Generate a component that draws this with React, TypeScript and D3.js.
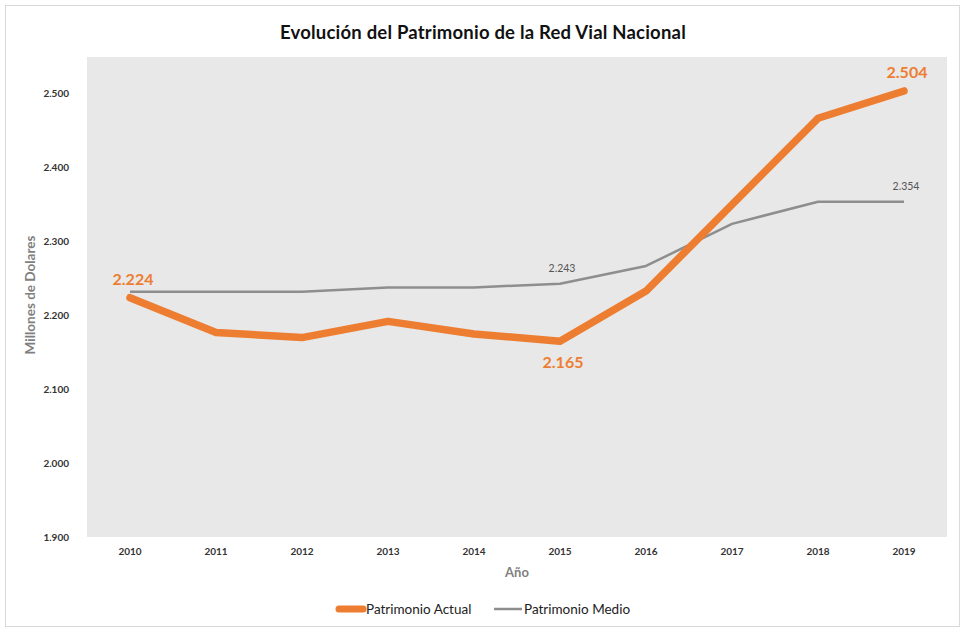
import React from "react";
import * as d3 from "d3";

const years = ["2010", "2011", "2012", "2013", "2014", "2015", "2016", "2017", "2018", "2019"];
const patrimonioActual = [2224, 2177, 2170, 2192, 2175, 2165, 2233, 2350, 2467, 2504];
const patrimonioMedio = [2232, 2232, 2232, 2238, 2238, 2243, 2267, 2324, 2354, 2354];
const yTicks = [1900, 2000, 2100, 2200, 2300, 2400, 2500];
const actualLabelIdx = [0, 5, 9];
const medioLabelIdx = [5, 9];

const W = 963;
const H = 631;
const plot = { left: 87, right: 947, top: 57, bottom: 537 };
const ORANGE = "#ed7d31";
const GRAY = "#8e8e8e";
const FONT = "Lato, 'Open Sans', sans-serif";

const fmt = (v: number) => (v / 1000).toFixed(3);

export default function App() {
  const x = d3.scaleBand<string>().domain(years).range([plot.left, plot.right]);
  const cx = (y: string) => (x(y) as number) + x.bandwidth() / 2;
  const y = d3.scaleLinear().domain([1900, 2550]).range([plot.bottom, plot.top]);
  const line = d3
    .line<number>()
    .x((_, i) => cx(years[i]))
    .y((d) => y(d));

  return (
    <div style={{ position: "absolute", left: 0, top: 0 }}>
      <svg width={W} height={H} style={{ display: "block", background: "#fff" }}>
        <rect x={5.5} y={5.5} width={W - 9} height={H - 10} fill="#fff" stroke="#d9d9d9" strokeWidth={1} />
        <text x={483} y={39} textAnchor="middle" fontFamily={FONT} fontWeight={700} fontSize={18.5} letterSpacing={0.2} fill="#111">
          Evolución del Patrimonio de la Red Vial Nacional
        </text>
        <rect x={plot.left} y={plot.top} width={plot.right - plot.left} height={plot.bottom - plot.top} fill="#e8e8e8" />
        {yTicks.map((t) => (
          <text key={t} x={69} y={y(t) + 3.5} textAnchor="end" fontFamily={FONT} fontWeight={700} fontSize={10} fill="#333">
            {fmt(t)}
          </text>
        ))}
        {years.map((yr) => (
          <text key={yr} x={cx(yr)} y={555} textAnchor="middle" fontFamily={FONT} fontWeight={700} fontSize={10} fill="#333">
            {yr}
          </text>
        ))}
        <text
          transform={`translate(35, ${(plot.top + plot.bottom) / 2 - 2}) rotate(-90)`}
          textAnchor="middle"
          fontFamily={FONT}
          fontWeight={700}
          fontSize={13.5}
          fill="#7f7f7f"
        >
          Millones de Dolares
        </text>
        <text x={(plot.left + plot.right) / 2} y={577} textAnchor="middle" fontFamily={FONT} fontWeight={700} fontSize={13} fill="#7f7f7f">
          Año
        </text>
        <path d={line(patrimonioMedio) || ""} fill="none" stroke={GRAY} strokeWidth={2.5} strokeLinejoin="round" />
        <path d={line(patrimonioActual) || ""} fill="none" stroke={ORANGE} strokeWidth={7.5} strokeLinejoin="round" strokeLinecap="round" />
        {medioLabelIdx.map((i) => (
          <text key={i} x={cx(years[i]) + 2} y={y(patrimonioMedio[i]) - 12} textAnchor="middle" fontFamily={FONT} fontSize={10.5} fill="#555">
            {fmt(patrimonioMedio[i])}
          </text>
        ))}
        {actualLabelIdx.map((i) => {
          const below = i === 5;
          return (
            <text
              key={i}
              x={cx(years[i]) + 3}
              y={below ? y(patrimonioActual[i]) + 27 : y(patrimonioActual[i]) - 13}
              textAnchor="middle"
              fontFamily={FONT}
              fontWeight={700}
              fontSize={16}
              fill={ORANGE}
            >
              {fmt(patrimonioActual[i])}
            </text>
          );
        })}
        <g fontFamily={FONT} fontSize={13.5} fill="#222">
          <line x1={339} x2={363} y1={609} y2={609} stroke={ORANGE} strokeWidth={7} strokeLinecap="round" />
          <text x={366} y={614}>Patrimonio Actual</text>
          <line x1={494} x2={522} y1={609} y2={609} stroke={GRAY} strokeWidth={2.5} />
          <text x={524} y={614}>Patrimonio Medio</text>
        </g>
      </svg>
    </div>
  );
}
